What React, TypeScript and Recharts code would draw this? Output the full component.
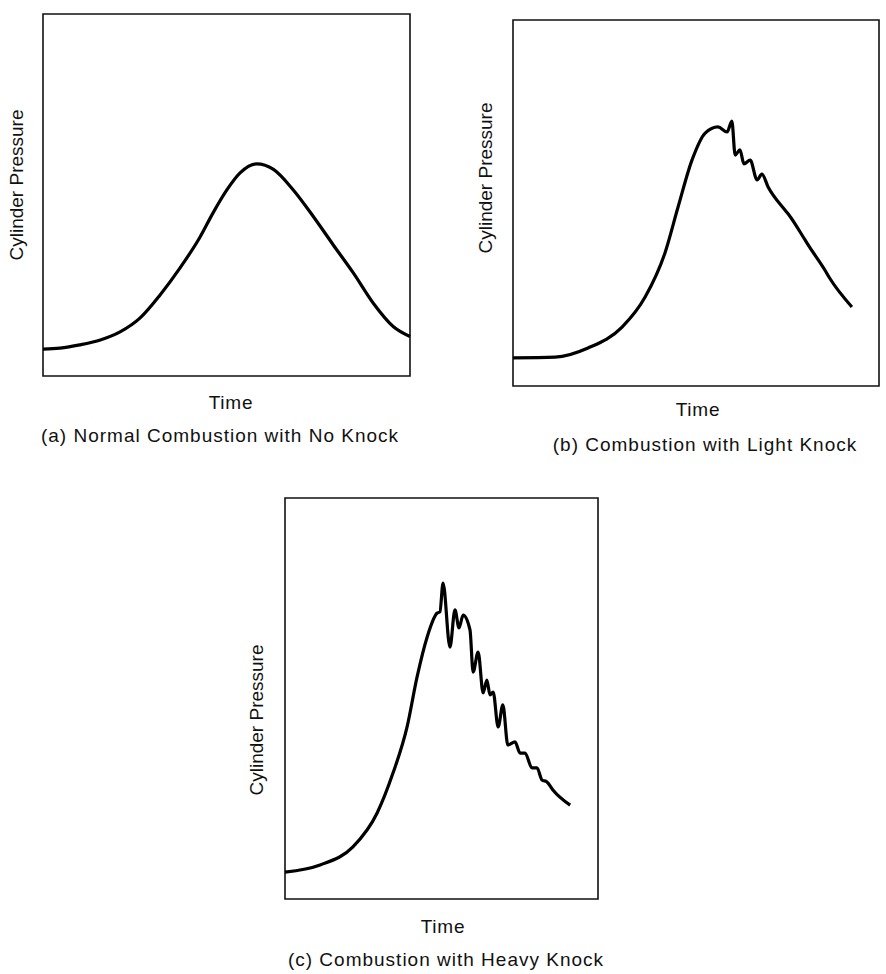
import React from "react";
import { LineChart, Line, XAxis, YAxis, ReferenceArea } from "recharts";

// (a) normal combustion, no knock
const timeA = [0, 4.6, 10.0, 15.4, 21.0, 26.4, 31.9, 37.3, 42.8, 46.3, 50.1, 53.7, 58.2, 62.8, 68.2, 73.7, 79.1, 84.6, 90.0, 95.5, 100];
const pressureA = [7.4, 7.7, 8.6, 9.9, 12.2, 16.0, 22.4, 29.8, 38.4, 45.0, 51.4, 56.1, 58.6, 57.1, 51.4, 44.0, 36.2, 28.4, 20.1, 13.6, 10.9];

// (b) light knock
const timeB = [0, 11.5, 20.5, 29.8, 36.1, 41.5, 45.1, 48.9, 52.5, 56.0, 58.5, 59.8, 60.7, 62.0, 63.1, 64.8, 66.7, 68.0, 69.7, 74.3, 75.5, 79.8, 81.0, 85.2, 86.5, 92.6];
const pressureB = [7.7, 7.9, 10.4, 16.1, 24.3, 36.3, 48.9, 61.7, 69.1, 70.8, 69.4, 72.4, 63.1, 64.5, 60.7, 61.7, 56.3, 57.9, 54.4, 48.1, 46.6, 39.9, 38.0, 31.7, 29.5, 21.6];

// (c) heavy knock
const timeC = [0, 11.2, 21.7, 29.4, 34.5, 39.0, 42.2, 45.4, 48.6, 49.5, 50.5, 52.7, 54.3, 55.6, 56.9, 59.1, 60.1, 61.7, 63.3, 64.5, 65.5, 66.5, 68.1, 69.6, 71.2, 73.5, 75.1, 76.7, 78.9, 80.5, 82.1, 83.7, 85.6, 91.1];
const pressureC = [6.7, 8.5, 13.0, 21.4, 31.4, 42.9, 55.4, 65.3, 71.3, 71.6, 78.8, 62.8, 72.1, 67.6, 70.8, 67.1, 56.6, 61.6, 51.4, 54.6, 50.9, 51.6, 42.9, 48.4, 38.4, 39.2, 36.4, 36.4, 32.7, 32.7, 29.7, 29.2, 27.2, 23.4];

const yLabel = "Cylinder Pressure";
const xLabel = "Time";
const captions = [
  "(a) Normal Combustion with No Knock",
  "(b) Combustion with Light Knock",
  "(c) Combustion with Heavy Knock",
];

const zip = (t: number[], p: number[]) => t.map((v, i) => ({ t: v, p: p[i] }));

interface PanelProps {
  data: { t: number; p: number }[];
  x: number;
  y: number;
  w: number;
  h: number;
}

function Panel({ data, x, y, w, h }: PanelProps) {
  const m = 3;
  return (
    <div style={{ position: "absolute", left: x - m, top: y - m }}>
      <LineChart
        width={w + 2 * m}
        height={h + 2 * m}
        data={data}
        margin={{ top: m, right: m, bottom: m, left: m }}
      >
        <XAxis dataKey="t" type="number" domain={[0, 100]} hide />
        <YAxis type="number" domain={[0, 100]} hide />
        <ReferenceArea
          x1={0}
          x2={100}
          y1={0}
          y2={100}
          fill="none"
          stroke="#111"
          strokeWidth={1.6}
          ifOverflow="visible"
        />
        <Line
          dataKey="p"
          type="monotone"
          stroke="#000"
          strokeWidth={3.2}
          dot={false}
          isAnimationActive={false}
        />
      </LineChart>
    </div>
  );
}

const font = "'Liberation Sans', Arial, sans-serif";

export default function App() {
  const fs = 19;
  return (
    <div
      style={{
        position: "absolute",
        left: 0,
        top: 0,
        width: 886,
        height: 974,
        background: "#fff",
        fontFamily: font,
      }}
    >
      <Panel data={zip(timeA, pressureA)} x={43} y={14} w={367} h={362} />
      <Panel data={zip(timeB, pressureB)} x={513} y={20} w={366} h={366} />
      <Panel data={zip(timeC, pressureC)} x={285} y={498} w={313} h={401} />
      <svg
        width={886}
        height={974}
        style={{ position: "absolute", left: 0, top: 0, pointerEvents: "none" }}
        fontFamily={font}
        fill="#111"
      >
        <text x={18} y={185} fontSize={fs} textAnchor="middle" dominantBaseline="middle" transform="rotate(-90 18 185)">
          {yLabel}
        </text>
        <text x={487} y={178} fontSize={fs} textAnchor="middle" dominantBaseline="middle" transform="rotate(-90 487 178)">
          {yLabel}
        </text>
        <text x={258} y={720} fontSize={fs} textAnchor="middle" dominantBaseline="middle" transform="rotate(-90 258 720)">
          {yLabel}
        </text>
        <text x={231} y={404} fontSize={fs} textAnchor="middle" dominantBaseline="middle" letterSpacing={0.8}>{xLabel}</text>
        <text x={698} y={411} fontSize={fs} textAnchor="middle" dominantBaseline="middle" letterSpacing={0.8}>{xLabel}</text>
        <text x={443} y={928} fontSize={fs} textAnchor="middle" dominantBaseline="middle" letterSpacing={0.8}>{xLabel}</text>
        <text x={220} y={437} fontSize={fs} textAnchor="middle" dominantBaseline="middle" letterSpacing={1}>{captions[0]}</text>
        <text x={705} y={446} fontSize={fs} textAnchor="middle" dominantBaseline="middle" letterSpacing={1}>{captions[1]}</text>
        <text x={446} y={961} fontSize={fs} textAnchor="middle" dominantBaseline="middle" letterSpacing={1}>{captions[2]}</text>
      </svg>
    </div>
  );
}
